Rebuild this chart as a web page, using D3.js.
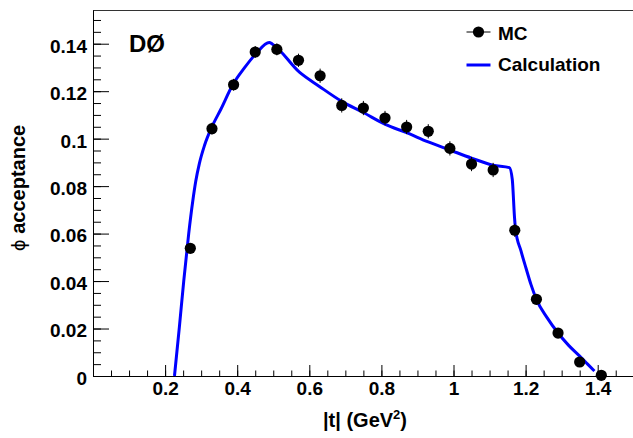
<!DOCTYPE html>
<html>
<head>
<meta charset="utf-8">
<script src="https://cdn.jsdelivr.net/npm/d3@7"></script>
<style>
  html, body { margin: 0; padding: 0; background: #fff; }
  svg { display: block; }
  text { font-family: "Liberation Sans", Arial, Helvetica, sans-serif; font-weight: bold; fill: #000; }
</style>
</head>
<body>
<svg id="chart" width="633" height="438"></svg>
<script>
// ---- data ----
const mcT   = [0.27, 0.33, 0.39, 0.45, 0.51, 0.57, 0.63, 0.69, 0.75, 0.81, 0.87, 0.93, 0.99, 1.05, 1.11, 1.17, 1.23, 1.29, 1.35, 1.41];
const mcAcc = [0.0538, 0.1042, 0.1227, 0.1365, 0.1376, 0.1330, 0.1265, 0.1140, 0.1129, 0.1087, 0.1049, 0.1031, 0.0959, 0.0893, 0.0868, 0.0614, 0.0323, 0.0181, 0.0059, 0.0003];
const mcErr = [0.0020, 0.0025, 0.0025, 0.0025, 0.0025, 0.0028, 0.0030, 0.0030, 0.0030, 0.0030, 0.0030, 0.0030, 0.0030, 0.0030, 0.0030, 0.0028, 0.0022, 0.0018, 0.0012, 0.0005];

const calcT   = [0.226, 0.2395, 0.2517, 0.2655, 0.2766, 0.285, 0.295, 0.309, 0.330, 0.355, 0.388, 0.420, 0.452, 0.489, 0.498, 0.5725, 0.628, 0.689, 0.750, 0.811, 0.870, 0.930, 0.990, 1.050, 1.110, 1.155, 1.163, 1.169, 1.172, 1.187, 1.201, 1.215, 1.230, 1.260, 1.290, 1.320, 1.350, 1.372, 1.391];
const calcAcc = [0.0000, 0.0205, 0.0400, 0.0600, 0.0735, 0.0820, 0.0895, 0.0970, 0.1050, 0.1125, 0.1228, 0.1298, 0.1358, 0.1405, 0.1398, 0.1280, 0.1220, 0.1158, 0.1110, 0.1060, 0.1025, 0.0986, 0.0952, 0.0918, 0.0888, 0.0878, 0.0829, 0.0674, 0.0618, 0.0528, 0.0455, 0.0385, 0.0323, 0.0245, 0.0181, 0.0128, 0.0084, 0.0050, 0.0021];

const xMajor = [0.2, 0.4, 0.6, 0.8, 1.0, 1.2, 1.4];
const xLabels = ["0.2", "0.4", "0.6", "0.8", "1", "1.2", "1.4"];
const yMajor = [0, 0.02, 0.04, 0.06, 0.08, 0.1, 0.12, 0.14];
const yLabels = ["0", "0.02", "0.04", "0.06", "0.08", "0.1", "0.12", "0.14"];
const xMinor = d3.range(1, 30).map(i => +(i * 0.05).toFixed(2));
const yMinor = d3.range(1, 31).map(i => +(i * 0.005).toFixed(3));

const xTitle = "|t| (GeV";
const yTitleSym = "\u03D5";
const yTitle = " acceptance";
const expLabel = "D\u00D8";
const legendNames = ["MC", "Calculation"];

// ---- scales ----
const xMax = 1.5, yMax = 0.1542;
const x = d3.scaleLinear().domain([0, xMax]).range([93, 93 + 360.5 * xMax]);
const y = d3.scaleLinear().domain([0, yMax]).range([376, 10]);

const svg = d3.select("#chart");
const FS = 19;

// top frame line
svg.append("line")
  .attr("x1", x(0)).attr("x2", 633)
  .attr("y1", y(yMax) + 0.5).attr("y2", y(yMax) + 0.5)
  .attr("stroke", "#333").attr("stroke-width", 1);

// minor ticks
svg.append("g").attr("transform", `translate(0,${y(0)})`)
  .call(d3.axisBottom(x).tickValues(xMinor).tickSizeInner(-5.5).tickSizeOuter(0).tickFormat(""))
  .call(g => g.select(".domain").remove())
  .call(g => g.selectAll("line").attr("stroke", "#000"));
svg.append("g").attr("transform", `translate(${x(0)},0)`)
  .call(d3.axisLeft(y).tickValues(yMinor).tickSizeInner(-8).tickSizeOuter(0).tickFormat(""))
  .call(g => g.select(".domain").remove())
  .call(g => g.selectAll("line").attr("stroke", "#000"));

// major axes
const xAxis = svg.append("g").attr("transform", `translate(0,${y(0)})`)
  .call(d3.axisBottom(x).tickValues(xMajor).tickSizeInner(-11).tickSizeOuter(0).tickPadding(6)
        .tickFormat((d, i) => xLabels[i]));
xAxis.attr("font-family", null);
xAxis.selectAll("text").attr("font-size", FS).attr("dy", "0.71em");
xAxis.select(".domain").attr("stroke", "#000");
xAxis.selectAll("line").attr("stroke", "#000");

const yAxis = svg.append("g").attr("transform", `translate(${x(0)},0)`)
  .call(d3.axisLeft(y).tickValues(yMajor).tickSizeInner(-16).tickSizeOuter(0).tickPadding(6)
        .tickFormat((d, i) => yLabels[i]));
yAxis.attr("font-family", null);
yAxis.selectAll("text").attr("font-size", FS).attr("dy", "0.44em");
yAxis.select(".domain").attr("stroke", "#000");
yAxis.selectAll("line").attr("stroke", "#000");

// axis titles
const xt = svg.append("text").attr("x", 365).attr("y", 427).attr("text-anchor", "middle").attr("font-size", 20);
xt.append("tspan").text(xTitle);
xt.append("tspan").attr("font-size", 13).attr("dy", -8).text("2");
xt.append("tspan").attr("dy", 8).text(")");

const yt = svg.append("text").attr("transform", "translate(25,188) rotate(-90)")
  .attr("text-anchor", "middle").attr("font-size", 20);
yt.append("tspan").attr("font-weight", "normal").attr("font-family", "DejaVu Sans").attr("font-size", 18).text(yTitleSym);
yt.append("tspan").text(yTitle);

// calculation curve
const calcData = calcT.map((t, i) => [t, calcAcc[i]]);
svg.append("path").datum(calcData)
  .attr("fill", "none").attr("stroke", "#0000ff").attr("stroke-width", 3).attr("stroke-linejoin", "round")
  .attr("d", d3.line().x(d => x(d[0])).y(d => y(d[1])).curve(d3.curveMonotoneX));

// MC points
const mc = mcT.map((t, i) => ({t, a: mcAcc[i], e: mcErr[i]}));
svg.append("g").selectAll("line").data(mc).join("line")
  .attr("x1", d => x(d.t)).attr("x2", d => x(d.t))
  .attr("y1", d => y(d.a - d.e)).attr("y2", d => y(d.a + d.e))
  .attr("stroke", "#000").attr("stroke-width", 1);
svg.append("g").selectAll("circle").data(mc).join("circle")
  .attr("cx", d => x(d.t)).attr("cy", d => y(d.a)).attr("r", 5.6).attr("fill", "#000");

// experiment label
svg.append("text").attr("x", 129).attr("y", 52).attr("font-size", 24).text(expLabel);

// legend
svg.append("line").attr("x1", 466.5).attr("x2", 490.5).attr("y1", 32).attr("y2", 32).attr("stroke", "#000").attr("stroke-width", 1);
svg.append("circle").attr("cx", 478.5).attr("cy", 32).attr("r", 5.6).attr("fill", "#000");
svg.append("text").attr("x", 498).attr("y", 39.5).attr("font-size", FS).text(legendNames[0]);
svg.append("line").attr("x1", 466.5).attr("x2", 490.5).attr("y1", 65).attr("y2", 65).attr("stroke", "#0000ff").attr("stroke-width", 3);
svg.append("text").attr("x", 498).attr("y", 70.5).attr("font-size", FS).text(legendNames[1]);
</script>
</body>
</html>
